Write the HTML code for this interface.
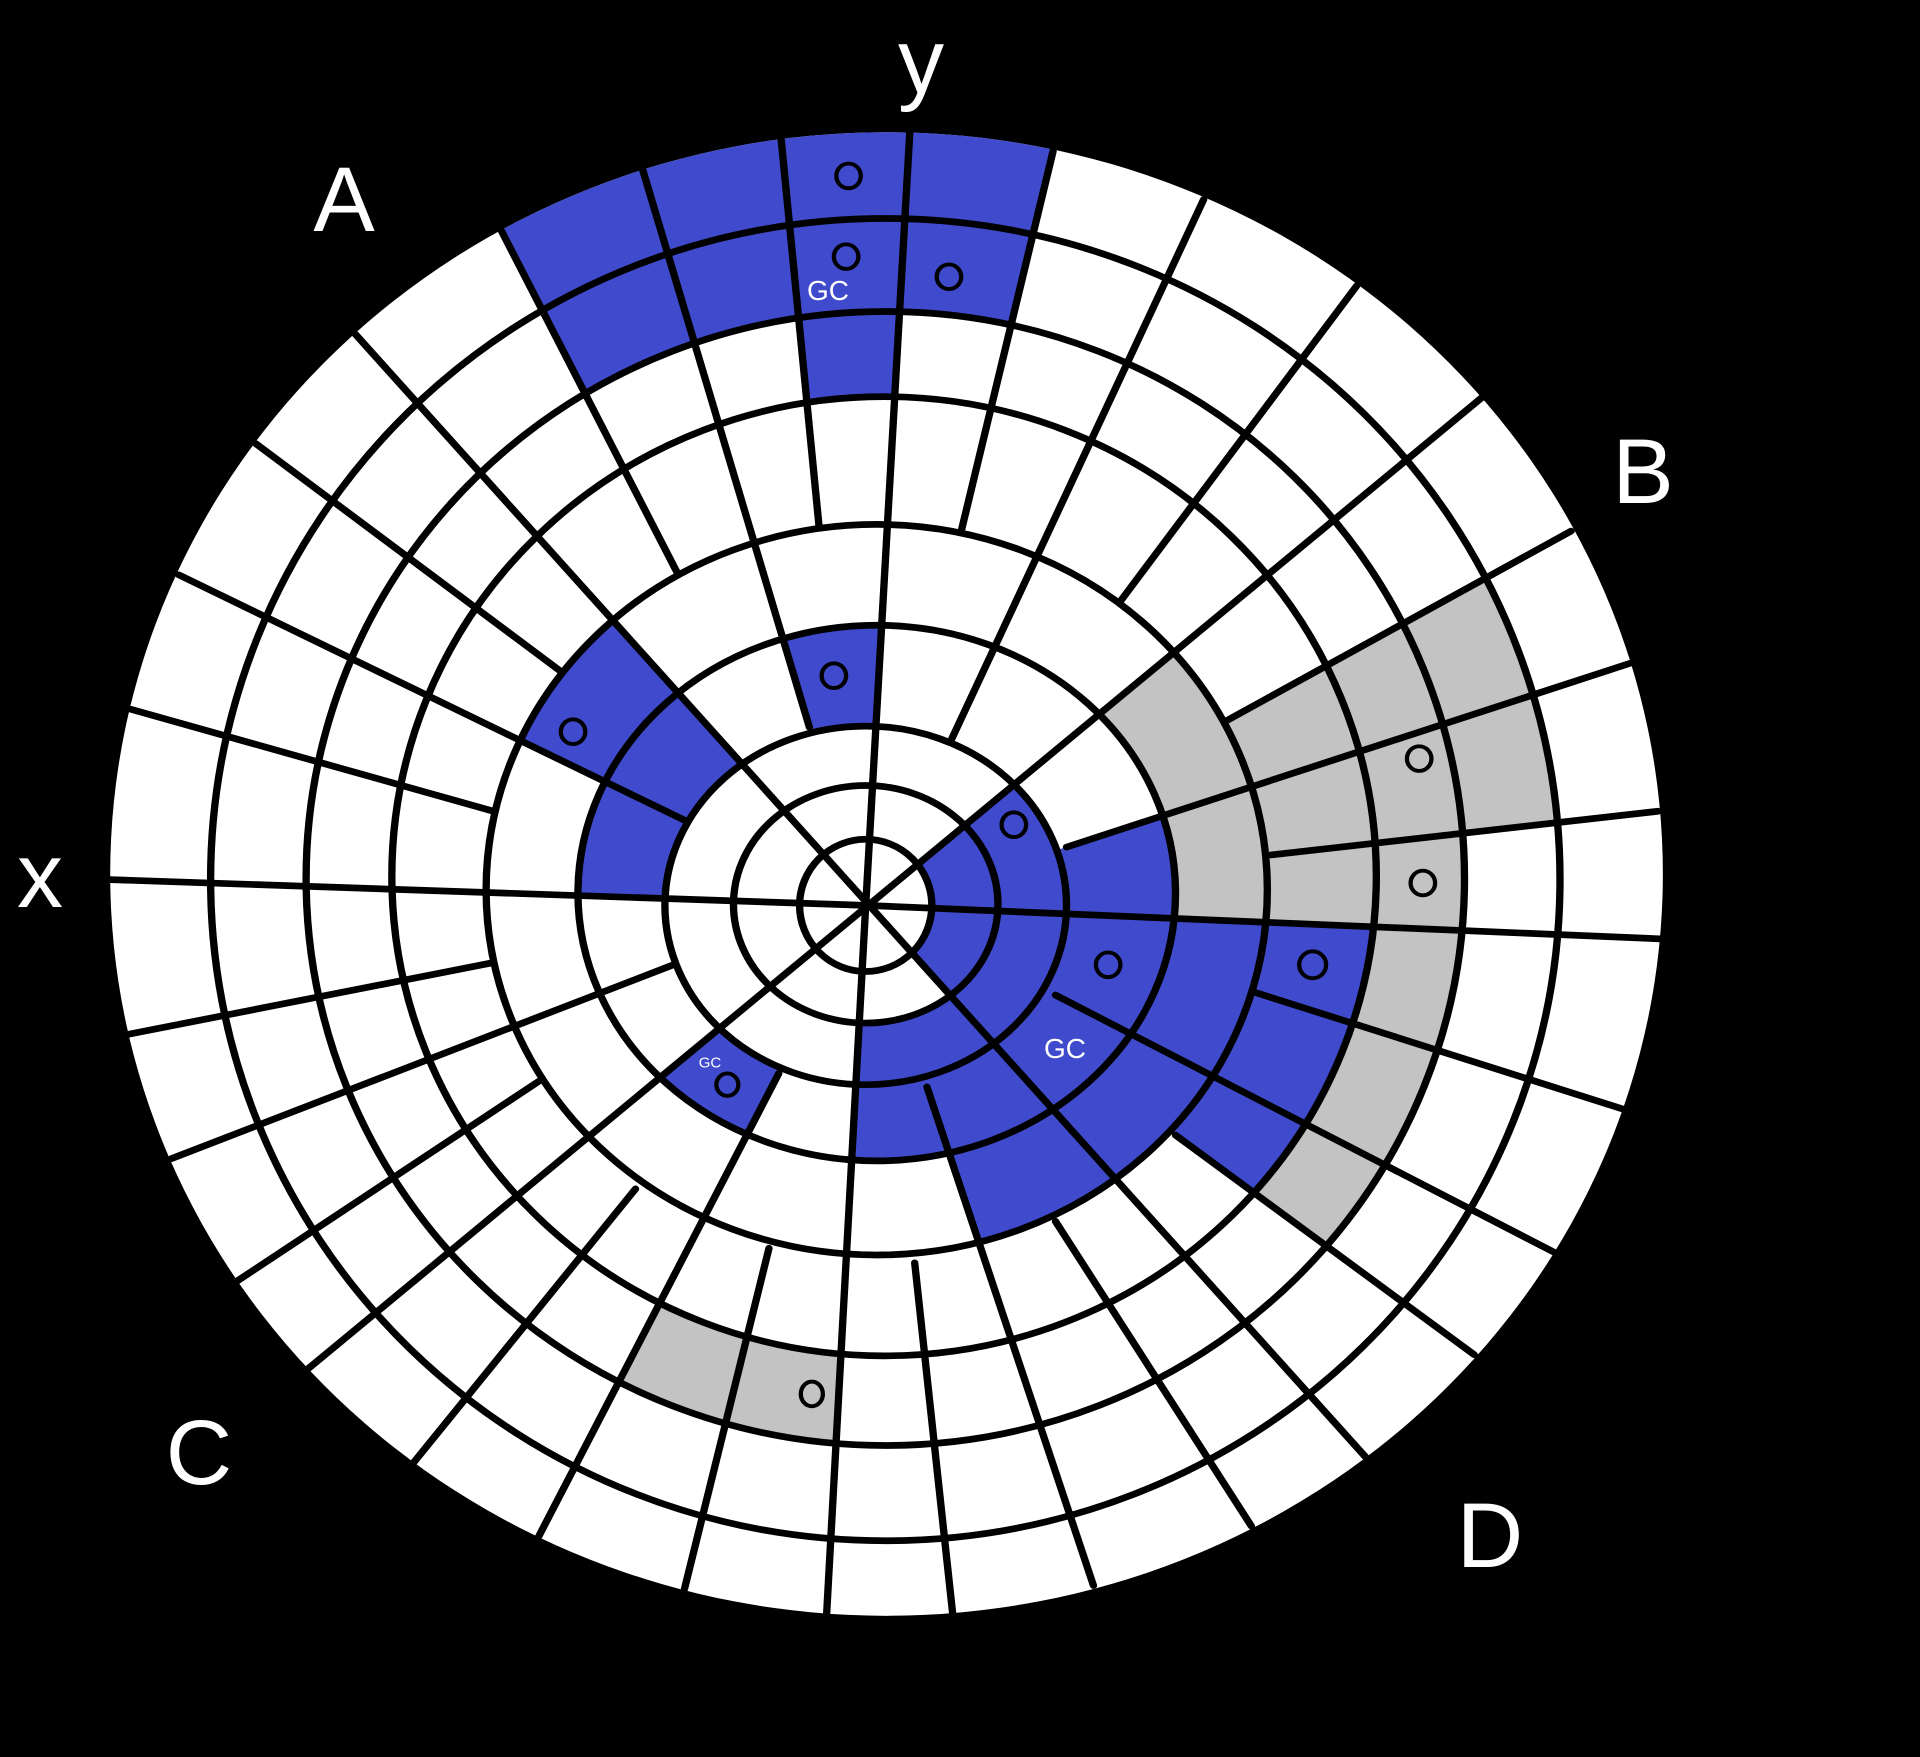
<!DOCTYPE html>
<html><head><meta charset="utf-8">
<style>
html,body{margin:0;padding:0;background:#000;}
#wrap{position:relative;width:1920px;height:1757px;overflow:hidden;background:#000;}
svg{position:absolute;left:0;top:0;}
.t{position:absolute;color:#fff;font-family:"Liberation Sans",sans-serif;transform:translate(-50%,-50%);line-height:1;white-space:nowrap;}
.big{font-size:92px;}
.gc{font-size:28px;}
</style></head><body>
<div id="wrap">
<svg width="1920" height="1757" viewBox="0 0 1568 1568" preserveAspectRatio="none">
<defs>
<clipPath id="c1"><polygon points="320,24 553,511 785,474 906,-67"/></clipPath>
<clipPath id="c2"><polygon points="617,-80 669,471 707,808 754,-89"/></clipPath>
<clipPath id="c3"><polygon points="470,-45 661,649 707,808 754,-89"/></clipPath>
<clipPath id="c4"><polygon points="165,145 707,808 561,733 -22,424"/></clipPath>
<clipPath id="c5"><polygon points="-22,424 561,733 707,808 -95,778"/></clipPath>
<clipPath id="c6"><polygon points="1361,219 707,808 1553,847"/></clipPath>
<clipPath id="c7"><polygon points="1518,527 871,756 707,808 1553,847"/></clipPath>
<clipPath id="c8"><polygon points="1553,847 707,808 1237,1448"/></clipPath>
<clipPath id="c9"><polygon points="1237,1448 707,808 665,1632"/></clipPath>
<clipPath id="c10"><polygon points="707,808 1553,847 1237,1448 665,1632"/></clipPath>
<clipPath id="c11"><polygon points="707,808 1553,847 1237,1448 949,1597 757,970"/></clipPath>
<clipPath id="c12"><polygon points="707,808 1553,847 1353,1329 960,1013"/></clipPath>
<clipPath id="g1"><polygon points="707,808 1361,219 1553,847"/></clipPath>
<clipPath id="g2"><polygon points="1002,643 1456,374 1553,847 707,808"/></clipPath>
<clipPath id="g3"><polygon points="1002,643 1456,374 1553,847 1353,1329 960,1013 707,808"/></clipPath>
<clipPath id="g4"><polygon points="1002,643 1456,374 1548,699 1038,763"/></clipPath>
<clipPath id="g5"><polygon points="360,1540 636,958 707,808 665,1632"/></clipPath>
<clipPath id="c13"><polygon points="707,808 113,1348 360,1540 636,958"/></clipPath>
</defs>
<ellipse cx="724" cy="780" rx="634" ry="662" fill="#fff"/>
<g fill-rule="evenodd">
<g fill="#3f4bcc">
<path clip-path="url(#c1)" d="M90,780a634,662 0 1,0 1268,0a634,662 0 1,0 -1268,0Z M250,784a473,506 0 1,0 946,0a473,506 0 1,0 -946,0Z"/>
<path clip-path="url(#c2)" d="M250,784a473,506 0 1,0 946,0a473,506 0 1,0 -946,0Z M320,782a402,428 0 1,0 804,0a402,428 0 1,0 -804,0Z"/>
<path clip-path="url(#c3)" d="M472,797a244,239 0 1,0 488,0a244,239 0 1,0 -488,0Z M543,808a164,160 0 1,0 328,0a164,160 0 1,0 -328,0Z"/>
<path clip-path="url(#c4)" d="M397,794a319,326 0 1,0 638,0a319,326 0 1,0 -638,0Z M543,808a164,160 0 1,0 328,0a164,160 0 1,0 -328,0Z"/>
<path clip-path="url(#c5)" d="M472,797a244,239 0 1,0 488,0a244,239 0 1,0 -488,0Z M543,808a164,160 0 1,0 328,0a164,160 0 1,0 -328,0Z"/>
<path clip-path="url(#c6)" d="M543,808a164,160 0 1,0 328,0a164,160 0 1,0 -328,0Z M653,808a54,59 0 1,0 108,0a54,59 0 1,0 -108,0Z"/>
<path clip-path="url(#c7)" d="M472,797a244,239 0 1,0 488,0a244,239 0 1,0 -488,0Z M543,808a164,160 0 1,0 328,0a164,160 0 1,0 -328,0Z"/>
<path clip-path="url(#c8)" d="M543,808a164,160 0 1,0 328,0a164,160 0 1,0 -328,0Z M653,808a54,59 0 1,0 108,0a54,59 0 1,0 -108,0Z"/>
<path clip-path="url(#c9)" d="M543,808a164,160 0 1,0 328,0a164,160 0 1,0 -328,0Z M599,807a108,106 0 1,0 216,0a108,106 0 1,0 -216,0Z"/>
<path clip-path="url(#c10)" d="M472,797a244,239 0 1,0 488,0a244,239 0 1,0 -488,0Z M543,808a164,160 0 1,0 328,0a164,160 0 1,0 -328,0Z"/>
<path clip-path="url(#c11)" d="M397,794a319,326 0 1,0 638,0a319,326 0 1,0 -638,0Z M472,797a244,239 0 1,0 488,0a244,239 0 1,0 -488,0Z"/>
<path clip-path="url(#c12)" d="M320,782a402,428 0 1,0 804,0a402,428 0 1,0 -804,0Z M397,794a319,326 0 1,0 638,0a319,326 0 1,0 -638,0Z"/>
<path clip-path="url(#c13)" d="M472,797a244,239 0 1,0 488,0a244,239 0 1,0 -488,0Z M543,808a164,160 0 1,0 328,0a164,160 0 1,0 -328,0Z"/>
</g>
<g fill="#c3c3c3">
<path clip-path="url(#g1)" d="M397,794a319,326 0 1,0 638,0a319,326 0 1,0 -638,0Z M472,797a244,239 0 1,0 488,0a244,239 0 1,0 -488,0Z"/>
<path clip-path="url(#g2)" d="M320,782a402,428 0 1,0 804,0a402,428 0 1,0 -804,0Z M397,794a319,326 0 1,0 638,0a319,326 0 1,0 -638,0Z"/>
<path clip-path="url(#g3)" d="M250,784a473,506 0 1,0 946,0a473,506 0 1,0 -946,0Z M320,782a402,428 0 1,0 804,0a402,428 0 1,0 -804,0Z"/>
<path clip-path="url(#g4)" d="M172,785a551,590 0 1,0 1102,0a551,590 0 1,0 -1102,0Z M250,784a473,506 0 1,0 946,0a473,506 0 1,0 -946,0Z"/>
<path clip-path="url(#g5)" d="M250,784a473,506 0 1,0 946,0a473,506 0 1,0 -946,0Z M320,782a402,428 0 1,0 804,0a402,428 0 1,0 -804,0Z"/>
</g>
</g>
<g stroke="#000" stroke-width="6" fill="none" stroke-linecap="round" stroke-linejoin="round">
<polyline points="90,785 707,808 1358,838"/>
<polyline points="743,118 707,808 675,1442"/>
<line x1="290" y1="298" x2="1115" y2="1300"/>
<line x1="1210" y1="355" x2="250" y2="1223"/>
<line x1="409" y1="205" x2="553" y2="511"/>
<line x1="525" y1="152" x2="661" y2="649"/>
<line x1="638" y1="125" x2="669" y2="471"/>
<line x1="860" y1="135" x2="785" y2="474"/>
<line x1="983" y1="178" x2="777" y2="660"/>
<line x1="1108" y1="255" x2="914" y2="538"/>
<line x1="1283" y1="474" x2="1002" y2="643"/>
<line x1="1331" y1="592" x2="871" y2="756"/>
<line x1="1354" y1="724" x2="1038" y2="763"/>
<line x1="1326" y1="990" x2="1026" y2="886"/>
<line x1="1270" y1="1118" x2="862" y2="888"/>
<line x1="1204" y1="1209" x2="960" y2="1013"/>
<line x1="1022" y1="1362" x2="862" y2="1090"/>
<line x1="893" y1="1415" x2="757" y2="970"/>
<line x1="778" y1="1440" x2="747" y2="1127"/>
<line x1="559" y1="1418" x2="628" y2="1114"/>
<line x1="440" y1="1371" x2="636" y2="958"/>
<line x1="338" y1="1305" x2="519" y2="1061"/>
<line x1="194" y1="1143" x2="440" y2="965"/>
<line x1="140" y1="1034" x2="550" y2="861"/>
<line x1="105" y1="923" x2="403" y2="859"/>
<line x1="107" y1="633" x2="403" y2="724"/>
<line x1="146" y1="513" x2="561" y2="733"/>
<line x1="209" y1="396" x2="459" y2="600"/>
<ellipse cx="707" cy="808" rx="54" ry="59"/>
<ellipse cx="707" cy="807" rx="108" ry="106"/>
<ellipse cx="707" cy="808" rx="164" ry="160"/>
<ellipse cx="716" cy="797" rx="244" ry="239"/>
<ellipse cx="716" cy="794" rx="319" ry="326"/>
<ellipse cx="722" cy="782" rx="402" ry="428"/>
<ellipse cx="723" cy="784" rx="473" ry="506"/>
<ellipse cx="723" cy="785" rx="551" ry="590"/>
</g>
<g stroke="#000" stroke-width="3.5" fill="none">
<ellipse cx="693" cy="157" rx="10" ry="11"/>
<ellipse cx="691" cy="229" rx="10" ry="11"/>
<ellipse cx="775" cy="247" rx="10" ry="11"/>
<ellipse cx="681" cy="603" rx="10" ry="11"/>
<ellipse cx="468" cy="653" rx="10" ry="11"/>
<ellipse cx="828" cy="736" rx="10" ry="11"/>
<ellipse cx="905" cy="861" rx="10" ry="11"/>
<ellipse cx="1072" cy="861" rx="11" ry="12"/>
<ellipse cx="1159" cy="677" rx="10" ry="11"/>
<ellipse cx="1162" cy="788" rx="10" ry="11"/>
<ellipse cx="594" cy="968" rx="9" ry="10"/>
<ellipse cx="663" cy="1244" rx="9" ry="11"/>
</g>
</svg>
<div class="t big" style="left:921px;top:62px;">y</div>
<div class="t big" style="left:344px;top:200px;">A</div>
<div class="t big" style="left:1643px;top:472px;">B</div>
<div class="t big" style="left:40px;top:876px;">x</div>
<div class="t big" style="left:199px;top:1453px;">C</div>
<div class="t big" style="left:1490px;top:1536px;">D</div>
<div class="t gc" style="left:828px;top:291px;">GC</div>
<div class="t gc" style="left:1065px;top:1049px;">GC</div>
<div class="t" style="left:710px;top:1063px;font-size:15px;">GC</div>
</div>
</body></html>
